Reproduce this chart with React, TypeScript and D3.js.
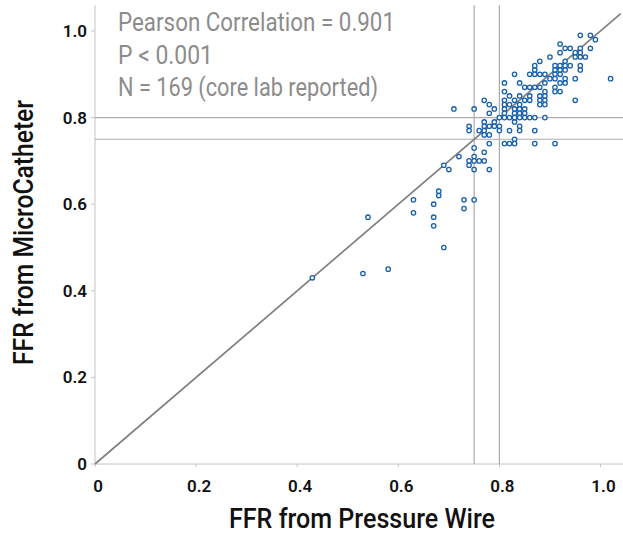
import React from "react";
import * as d3 from "d3";

// FFR from Pressure Wire (x)
const pressureWire: number[] = [
  0.96, 0.98, 0.99, 0.92, 0.93, 0.94, 0.96, 0.98, 0.92, 0.95, 0.96, 0.90, 0.95, 0.96, 0.97,
  0.88, 0.93, 0.87, 0.91, 0.92, 0.93, 0.94, 0.96, 0.87, 0.91, 0.92, 0.93, 0.96,
  0.83, 0.86, 0.87, 0.88, 0.89, 0.91, 0.92, 0.90, 0.91, 0.93, 0.95, 1.02,
  0.81, 0.84, 0.89, 0.92, 0.93, 0.85, 0.86, 0.87, 0.88, 0.91, 0.81, 0.89, 0.91, 0.92, 0.95,
  0.82, 0.84, 0.86, 0.88, 0.89, 0.77, 0.81, 0.83, 0.85, 0.86, 0.88, 0.89,
  0.78, 0.81, 0.82, 0.84, 0.88, 0.89, 0.71, 0.75, 0.79, 0.81, 0.83, 0.84, 0.85,
  0.78, 0.81, 0.83, 0.84, 0.85, 0.80, 0.81, 0.82, 0.83, 0.84, 0.85, 0.86, 0.87, 0.89,
  0.77, 0.79, 0.83, 0.74, 0.77, 0.78, 0.79, 0.80, 0.84, 0.74, 0.76, 0.77, 0.80, 0.82, 0.84, 0.87,
  0.77, 0.78, 0.83, 0.78, 0.81, 0.82, 0.83, 0.87, 0.91, 0.75,
  0.77, 0.72, 0.75, 0.75, 0.74, 0.76, 0.77, 0.74, 0.69, 0.70, 0.75, 0.78,
  0.68, 0.68, 0.63, 0.73, 0.75, 0.67, 0.73, 0.63, 0.54, 0.67, 0.67, 0.69, 0.58, 0.53, 0.43,
];

// FFR from MicroCatheter (y)
const microCatheter: number[] = [
  0.99, 0.99, 0.98, 0.97, 0.96, 0.96, 0.96, 0.96, 0.95, 0.95, 0.95, 0.94, 0.94, 0.94, 0.94,
  0.93, 0.93, 0.92, 0.92, 0.92, 0.92, 0.92, 0.92, 0.91, 0.91, 0.91, 0.91, 0.91,
  0.90, 0.90, 0.90, 0.90, 0.90, 0.90, 0.90, 0.89, 0.89, 0.89, 0.89, 0.89,
  0.88, 0.88, 0.88, 0.88, 0.88, 0.87, 0.87, 0.87, 0.87, 0.87, 0.86, 0.86, 0.86, 0.86, 0.84,
  0.85, 0.85, 0.85, 0.85, 0.85, 0.84, 0.84, 0.84, 0.84, 0.84, 0.84, 0.84,
  0.83, 0.83, 0.83, 0.83, 0.83, 0.83, 0.82, 0.82, 0.82, 0.82, 0.82, 0.82, 0.82,
  0.81, 0.81, 0.81, 0.81, 0.81, 0.80, 0.80, 0.80, 0.80, 0.80, 0.80, 0.80, 0.80, 0.80,
  0.79, 0.79, 0.79, 0.78, 0.78, 0.78, 0.78, 0.78, 0.78, 0.77, 0.77, 0.77, 0.77, 0.77, 0.77, 0.77,
  0.76, 0.76, 0.75, 0.74, 0.74, 0.74, 0.74, 0.74, 0.74, 0.73,
  0.72, 0.71, 0.71, 0.70, 0.70, 0.70, 0.70, 0.69, 0.69, 0.68, 0.68, 0.68,
  0.63, 0.62, 0.61, 0.61, 0.61, 0.60, 0.59, 0.58, 0.57, 0.57, 0.55, 0.50, 0.45, 0.44, 0.43,
];

const xTicks = [0, 0.2, 0.4, 0.6, 0.8, 1.0];
const yTicks = [0, 0.2, 0.4, 0.6, 0.8, 1.0];
const cutoffs = [0.75, 0.8];
const statLines = ["Pearson Correlation = 0.901", "P < 0.001", "N = 169 (core lab reported)"];
const statWidths = [277, 95, 260];

const fmt = (v: number) => (v === 0 ? "0" : d3.format(".1f")(v));

export default function App() {
  const W = 623;
  const H = 535;
  const x = d3.scaleLinear().domain([0, 1.04]).range([95, 95 + 1.04 * 505.5]);
  const y = d3.scaleLinear().domain([0, 1.05]).range([464, 464 - 1.05 * 433]);
  const x0 = x(0);
  const y0 = y(0);
  const xMaxPx = W;
  const yMinPx = y(1.05);
  const font = "Roboto, 'Liberation Sans', sans-serif";
  const pts = pressureWire.map((v, i) => [v, microCatheter[i]] as [number, number]);
  const diag = d3.line<[number, number]>().x((d) => x(d[0])).y((d) => y(d[1]))([
    [0, 0],
    [1.04, 1.04],
  ]);

  return (
    <svg
      width={W}
      height={H}
      style={{ position: "absolute", left: 0, top: 0, background: "#fff" }}
      fontFamily={font}
    >
      {/* axes */}
      <line x1={x0} x2={x0} y1={y0} y2={yMinPx - 4} stroke="#c4c4c4" strokeWidth={1} />
      <line x1={x0} x2={xMaxPx} y1={y0} y2={y0} stroke="#c4c4c4" strokeWidth={1} />
      {yTicks.map((t) => (
        <g key={"yt" + t}>
          <line x1={x0 - 4} x2={x0} y1={y(t)} y2={y(t)} stroke="#c4c4c4" />
          <text x={87} y={y(t)} dy="0.35em" textAnchor="end" fontSize={17} fontWeight={600} fill="#111">
            {fmt(t)}
          </text>
        </g>
      ))}
      {xTicks.map((t) => (
        <g key={"xt" + t}>
          <line x1={x(t)} x2={x(t)} y1={y0} y2={y0 + 3} stroke="#c4c4c4" />
          <text x={x(t) + 3} y={492} textAnchor="middle" fontSize={17} fontWeight={600} fill="#111">
            {fmt(t)}
          </text>
        </g>
      ))}
      {/* cutoff lines */}
      {cutoffs.map((c) => (
        <g key={"c" + c}>
          <line x1={x(c)} x2={x(c)} y1={y0} y2={yMinPx - 4} stroke="#ababab" strokeWidth={1.2} />
          <line x1={x0} x2={xMaxPx} y1={y(c)} y2={y(c)} stroke="#ababab" strokeWidth={1.2} />
        </g>
      ))}
      {/* identity line */}
      <path d={diag ?? ""} stroke="#808080" strokeWidth={1.7} fill="none" />
      {/* points */}
      {pts.map((p, i) => (
        <circle key={i} cx={x(p[0])} cy={y(p[1])} r={2.2} fill="#fff" stroke="#1760ae" strokeWidth={1.3} />
      ))}
      {/* stats */}
      {statLines.map((s, i) => (
        <text
          key={s}
          x={118}
          y={31 + i * 32.5}
          fontSize={26}
          fill="#8c8c8c"
          textLength={statWidths[i]}
          lengthAdjust="spacingAndGlyphs"
        >
          {s}
        </text>
      ))}
      {/* axis titles */}
      <text x={229} y={528} fontSize={27} fontWeight={500} fill="#111" textLength={266} lengthAdjust="spacingAndGlyphs">
        FFR from Pressure Wire
      </text>
      <text
        transform={`translate(33,365) rotate(-90)`}
        fontSize={27}
        fontWeight={500}
        fill="#111"
        textLength={265}
        lengthAdjust="spacingAndGlyphs"
      >
        FFR from MicroCatheter
      </text>
    </svg>
  );
}
